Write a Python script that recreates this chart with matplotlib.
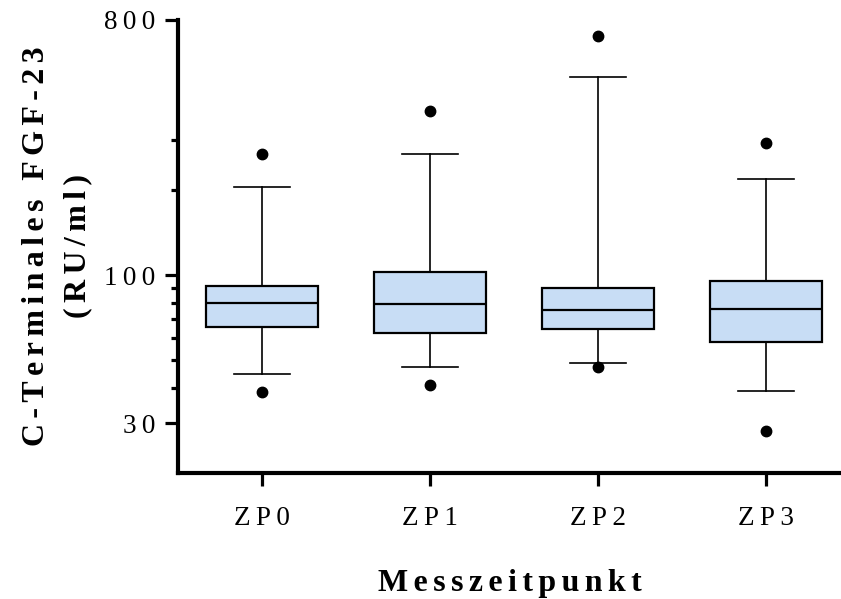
import matplotlib
matplotlib.use("Agg")
import matplotlib.pyplot as plt
from matplotlib.ticker import FixedLocator, NullFormatter

# Werte (RU/ml)
groups = ["ZP0", "ZP1", "ZP2", "ZP3"]
whisker_low = [44.8, 47.3, 49.0, 39.0]
q1 = [65.6, 62.4, 64.5, 58.0]
median = [80.0, 79.0, 75.3, 75.9]
q3 = [92.0, 103.0, 90.0, 95.2]
whisker_high = [206.0, 269.0, 503.0, 220.0]
outliers = [[38.6, 269.0], [40.9, 382.0], [47.3, 703.0], [28.2, 294.0]]

major_ticks = [30, 100, 800]
minor_ticks = [40, 50, 60, 70, 80, 90, 200, 300]

SERIF = ["Liberation Serif", "DejaVu Serif"]


def spaced(s, sp="\u2009"):
    # Prism-Export hat weite Zeichenabstaende
    return sp.join(s)


fig = plt.figure(figsize=(8.41, 5.99), dpi=100)
W, H = 841, 599
ax = fig.add_axes([178 / W, 1 - 473 / H, 1 - 178 / W, (473 - 20) / H])

stats = []
for i, g in enumerate(groups):
    stats.append(dict(label=g, whislo=whisker_low[i], q1=q1[i], med=median[i],
                      q3=q3[i], whishi=whisker_high[i], fliers=outliers[i]))

ax.bxp(stats, positions=range(len(groups)), widths=0.67, patch_artist=True,
       showfliers=True,
       boxprops=dict(facecolor="#c8ddf5", edgecolor="black", linewidth=1.6),
       medianprops=dict(color="black", linewidth=1.6),
       whiskerprops=dict(color="black", linewidth=1.2),
       capprops=dict(color="black", linewidth=1.2),
       capwidths=0.33,
       flierprops=dict(marker="o", markerfacecolor="black",
                       markeredgecolor="black", markersize=7.5))

ax.set_yscale("log")
ax.set_ylim(20, 800)
ax.set_xlim(-0.5, (W - 262) / 168)

ax.yaxis.set_major_locator(FixedLocator(major_ticks))
ax.yaxis.set_minor_locator(FixedLocator(minor_ticks))
ax.yaxis.set_minor_formatter(NullFormatter())
ax.set_yticklabels([spaced(str(v)) for v in major_ticks])
ax.set_xticks(range(len(groups)))
ax.set_xticklabels([spaced(g) for g in groups])

for sp in ["top", "right"]:
    ax.spines[sp].set_visible(False)
for sp in ["left", "bottom"]:
    ax.spines[sp].set_linewidth(3.0)

ax.tick_params(axis="y", which="major", length=9.5, width=2.3, labelsize=19.5, pad=7)
ax.tick_params(axis="y", which="minor", length=5, width=2.3)
ax.tick_params(axis="x", which="major", length=9, width=2.3, labelsize=19.5, pad=15)
for lab in ax.get_xticklabels() + ax.get_yticklabels():
    lab.set_family(SERIF)

ax.set_xlabel(spaced("Messzeitpunkt", "\u2006"), family=SERIF, fontsize=23,
              fontweight="bold", labelpad=27)
ax.set_ylabel(spaced("C-Terminales FGF-23", "\u2006") + "\n"
              + spaced("(RU/ml)", "\u2006"),
              family=SERIF, fontsize=23, fontweight="bold",
              linespacing=1.55)
ax.yaxis.set_label_coords(-0.13, 0.5)

fig.savefig("out.png", dpi=100)
